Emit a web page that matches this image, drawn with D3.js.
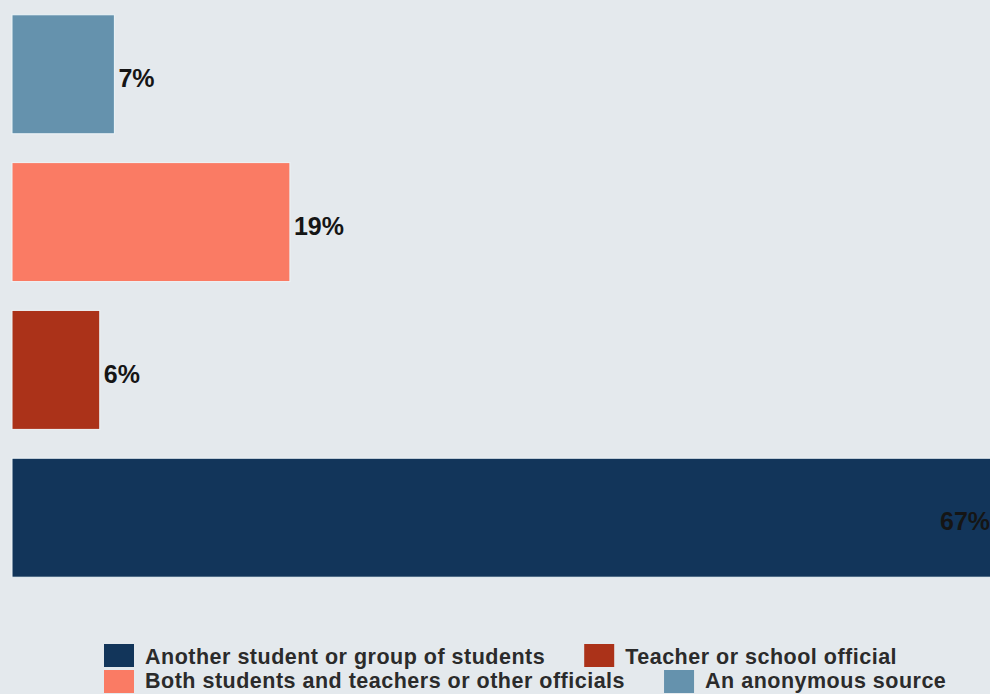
<!DOCTYPE html>
<html>
<head>
<meta charset="utf-8">
<script src="https://cdn.jsdelivr.net/npm/d3@7"></script>
<style>
  html, body { margin: 0; padding: 0; background: #e4e9ed; overflow: hidden; }
  svg { display: block; font-family: "Liberation Sans", Arial, sans-serif; }
</style>
</head>
<body>
<svg width="990" height="694"></svg>
<script>
const svg = d3.select("svg");
const width = +svg.attr("width");
const height = +svg.attr("height");

// bars top to bottom
const categories = [
    "An anonymous source",
    "Both students and teachers or other officials",
    "Teacher or school official",
    "Another student or group of students"
];
const values = [7, 19, 6, 67];
const colors = ["#6592ad", "#fa7b64", "#ab3219", "#12355a"];

// legend order (reads left to right, row by row)
const legendOrder = [
    "Another student or group of students",
    "Teacher or school official",
    "Both students and teachers or other officials",
    "An anonymous source"
];

const color = d3.scaleOrdinal().domain(categories).range(colors);

svg.append("rect")
    .attr("width", width)
    .attr("height", height)
    .attr("fill", "#e4e9ed");

const xScale = d3.scaleLinear()
    .domain([0, 67])
    .range([12, 992]);

const yScale = d3.scaleBand()
    .domain(categories)
    .range([0, 592])
    .paddingInner(0.195)
    .paddingOuter(0.1);

const data = categories.map((c, i) => ({ cat: c, value: values[i] }));

svg.selectAll("rect.bar").data(data)
    .enter().append("rect")
        .attr("class", "bar")
        .attr("x", xScale(0))
        .attr("y", d => yScale(d.cat))
        .attr("width", d => xScale(d.value) - xScale(0))
        .attr("height", yScale.bandwidth())
        .attr("fill", d => color(d.cat))
        .attr("stroke", "#eef5f8")
        .attr("stroke-width", 1);

// value labels, outside the bar unless it runs off the page
svg.selectAll("text.val").data(data)
    .enter().append("text")
        .attr("class", "val")
        .attr("y", d => yScale(d.cat) + yScale.bandwidth() / 2 + 4)
        .attr("dy", "0.35em")
        .attr("x", d => xScale(d.value) > width - 60 ? xScale(d.value) - 52 : xScale(d.value) + 4)
        .attr("font-size", 25)
        .attr("font-weight", "bold")
        .attr("fill", "#151515")
        .text(d => d.value + "%");

// legend: flowing rows
const legendRows = [legendOrder.slice(0, 2), legendOrder.slice(2, 4)];
const legendTop = [644, 670];
const baselines = [663.5, 688]; // tight rows, last one must stay on the page
const sw = 30, sh = 23;

legendRows.forEach((row, r) => {
    let x = 104;
    row.forEach(name => {
        const g = svg.append("g").attr("transform", `translate(${x}, ${legendTop[r]})`);
        g.append("rect")
            .attr("width", sw)
            .attr("height", sh)
            .attr("fill", color(name));
        const t = g.append("text")
            .attr("x", 41)
            .attr("y", baselines[r] - legendTop[r])
            .attr("font-size", 21.5)
            .attr("letter-spacing", 0.5)
            .attr("font-weight", "bold")
            .attr("fill", "#2b2b2b")
            .text(name);
        x += 41 + t.node().getComputedTextLength() + 39;
    });
});
</script>
</body>
</html>
